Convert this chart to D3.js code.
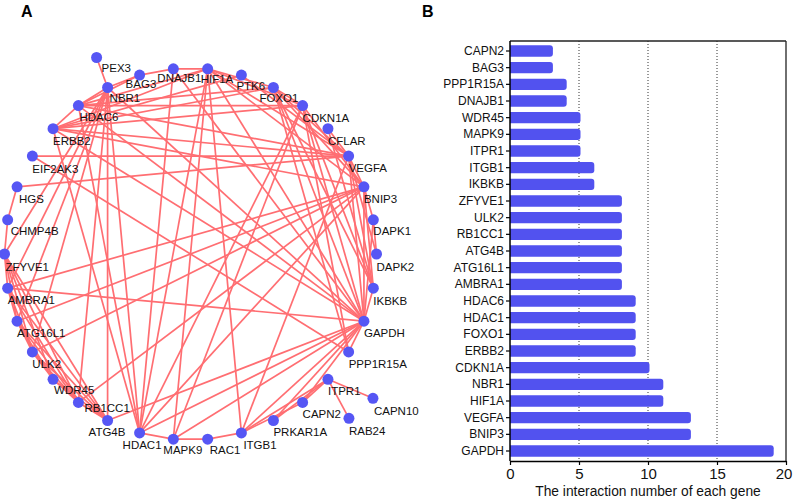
<!DOCTYPE html>
<html><head><meta charset="utf-8">
<script src="https://cdn.jsdelivr.net/npm/d3@7/dist/d3.min.js"></script>
<style>
body{margin:0;background:#fff}
svg{display:block}
text{font-family:"Liberation Sans",Arial,Helvetica,sans-serif}
</style>
</head><body>
<svg id="chart" width="793" height="501"></svg>
<script>
// ---------------- DATA ----------------
// Panel B: bar chart (top to bottom)
const genes = ["CAPN2","BAG3","PPP1R15A","DNAJB1","WDR45","MAPK9","ITPR1","ITGB1","IKBKB",
  "ZFYVE1","ULK2","RB1CC1","ATG4B","ATG16L1","AMBRA1","HDAC6","HDAC1","FOXO1","ERBB2",
  "CDKN1A","NBR1","HIF1A","VEGFA","BNIP3","GAPDH"];
const interactionCounts = [3,3,4,4,5,5,5,6,6,8,8,8,8,8,8,9,9,9,9,10,11,11,13,13,19];
const xTickValues = [0,5,10,15,20];
const gridValues = [5,10,15];
const xAxisTitle = "The interaction number of each gene";

// Panel A: network nodes in circle order (clockwise from top)
const ringNodes = ["DNAJB1","HIF1A","PTK6","FOXO1","CDKN1A","CFLAR","VEGFA","BNIP3","DAPK1","DAPK2",
  "IKBKB","GAPDH","PPP1R15A","ITPR1","CAPN2","PRKAR1A","ITGB1","RAC1","MAPK9","HDAC1","ATG4B",
  "RB1CC1","WDR45","ULK2","ATG16L1","AMBRA1","ZFYVE1","CHMP4B","HGS","EIF2AK3","ERBB2","HDAC6",
  "NBR1","BAG3"];
const satelliteNodes = ["PEX3","CAPN10","RAB24"];
const satelliteParents = ["NBR1","ITPR1","ITPR1"];

const edges = [
 ["PEX3","NBR1"],["ITPR1","CAPN10"],["ITPR1","RAB24"],["EIF2AK3","VEGFA"],["EIF2AK3","PPP1R15A"],
 ["HGS","VEGFA"],["HGS","CHMP4B"],["CHMP4B","ZFYVE1"],
 ["ZFYVE1","AMBRA1"],["ZFYVE1","ATG16L1"],["ZFYVE1","ULK2"],["ZFYVE1","WDR45"],["ZFYVE1","RB1CC1"],["ZFYVE1","ATG4B"],
 ["AMBRA1","ATG16L1"],["AMBRA1","ULK2"],["AMBRA1","RB1CC1"],["AMBRA1","ATG4B"],
 ["ATG16L1","ULK2"],["ATG16L1","WDR45"],["ATG16L1","RB1CC1"],["ATG16L1","ATG4B"],
 ["ULK2","WDR45"],["ULK2","RB1CC1"],["ULK2","ATG4B"],["WDR45","RB1CC1"],["WDR45","ATG4B"],["RB1CC1","ATG4B"],
 ["NBR1","ZFYVE1"],["NBR1","AMBRA1"],["NBR1","ATG16L1"],["NBR1","ULK2"],["NBR1","RB1CC1"],["NBR1","ATG4B"],
 ["NBR1","HDAC6"],["NBR1","HDAC1"],["NBR1","BAG3"],["NBR1","GAPDH"],
 ["AMBRA1","BNIP3"],["AMBRA1","GAPDH"],["ATG16L1","BNIP3"],["ULK2","BNIP3"],["RB1CC1","BNIP3"],["ATG4B","GAPDH"],
 ["BAG3","HDAC6"],["BAG3","DNAJB1"],
 ["HDAC6","GAPDH"],["HDAC6","HIF1A"],["HDAC6","VEGFA"],["HDAC6","FOXO1"],["HDAC6","CDKN1A"],["HDAC6","ERBB2"],["HDAC6","HDAC1"],
 ["DNAJB1","HIF1A"],["DNAJB1","GAPDH"],["DNAJB1","HDAC1"],
 ["HDAC1","ERBB2"],["HDAC1","GAPDH"],["HDAC1","HIF1A"],["HDAC1","CDKN1A"],["HDAC1","MAPK9"],["HDAC1","BNIP3"],
 ["ERBB2","GAPDH"],["ERBB2","BNIP3"],["ERBB2","VEGFA"],["ERBB2","HIF1A"],["ERBB2","CDKN1A"],["ERBB2","FOXO1"],["ERBB2","PTK6"],
 ["FOXO1","GAPDH"],["FOXO1","BNIP3"],["FOXO1","HIF1A"],["FOXO1","CDKN1A"],["FOXO1","VEGFA"],["FOXO1","PPP1R15A"],["FOXO1","IKBKB"],
 ["CDKN1A","GAPDH"],["CDKN1A","BNIP3"],["CDKN1A","HIF1A"],["CDKN1A","PPP1R15A"],["CDKN1A","MAPK9"],["CDKN1A","IKBKB"],
 ["HIF1A","GAPDH"],["HIF1A","BNIP3"],["HIF1A","VEGFA"],["HIF1A","MAPK9"],["HIF1A","ITGB1"],
 ["MAPK9","RAC1"],["MAPK9","GAPDH"],
 ["IKBKB","GAPDH"],["IKBKB","VEGFA"],["IKBKB","CFLAR"],["IKBKB","BNIP3"],
 ["PPP1R15A","GAPDH"],
 ["ITGB1","GAPDH"],["ITGB1","RAC1"],["ITGB1","CAPN2"],["ITGB1","ITPR1"],["ITGB1","VEGFA"],
 ["PRKAR1A","ITPR1"],["PRKAR1A","GAPDH"],["ITPR1","CAPN2"],["CAPN2","GAPDH"],
 ["BNIP3","GAPDH"],["BNIP3","VEGFA"],["BNIP3","DAPK1"],["DAPK1","DAPK2"],["DAPK1","GAPDH"],
 ["VEGFA","GAPDH"],["VEGFA","CFLAR"],["VEGFA","DAPK2"],["VEGFA","PTK6"]
];

// ---------------- LAYOUT / STYLE ----------------
const BAR_COLOR = "#5252EF";
const NODE_COLOR = "#5656F4";
const EDGE_COLOR = "#FF6E72";
const ring = {cx:190.5, cy:254, r:186};
const satelliteOffsets = {PEX3:[-11,-30], CAPN10:[45,19], RAB24:[21,39]};
const labelShift = {PEX3:[5,15], BAG3:[-14,13], DNAJB1:[-16,13], HIF1A:[-7,14], PTK6:[-5,15],
  FOXO1:[-14,15], ATG4B:[-19,15], HDAC1:[-17,16], MAPK9:[-10,15], RB1CC1:[6,10], NBR1:[2,15],
  HDAC6:[1,15], WDR45:[1,15], CHMP4B:[3,15], HGS:[2,16], PRKAR1A:[0,15], RAC1:[2,15], ITGB1:[2,16],
  EIF2AK3:[0,17], ZFYVE1:[1,17], CAPN10:[1,17], RAB24:[0,17], IKBKB:[0,17], DAPK2:[0,17], DAPK1:[0,15]};

const svg = d3.select("#chart");

// ---------------- PANEL A ----------------
const angle = d3.scaleLinear().domain([0, ringNodes.length])
  .range([-Math.PI/ringNodes.length, 2*Math.PI - Math.PI/ringNodes.length]);
const pos = {};
ringNodes.forEach((id,i)=>{
  const a = angle(i);
  pos[id] = [ring.cx + ring.r*Math.sin(a), ring.cy - ring.r*Math.cos(a)];
});
satelliteNodes.forEach((id,i)=>{
  const p = pos[satelliteParents[i]], o = satelliteOffsets[id];
  pos[id] = [p[0]+o[0], p[1]+o[1]];
});
const allNodes = ringNodes.concat(satelliteNodes);

const gA = svg.append("g");
gA.append("g").selectAll("line").data(edges).join("line")
  .attr("x1",d=>pos[d[0]][0]).attr("y1",d=>pos[d[0]][1])
  .attr("x2",d=>pos[d[1]][0]).attr("y2",d=>pos[d[1]][1])
  .attr("stroke",EDGE_COLOR).attr("stroke-width",1.7);
gA.append("g").selectAll("circle").data(allNodes).join("circle")
  .attr("cx",d=>pos[d][0]).attr("cy",d=>pos[d][1]).attr("r",5.5)
  .attr("fill",NODE_COLOR);
gA.append("g").selectAll("text").data(allNodes).join("text")
  .attr("x",d=>pos[d][0] + (labelShift[d]||[0,16])[0])
  .attr("y",d=>pos[d][1] + (labelShift[d]||[0,16])[1])
  .attr("font-size",11.5).attr("fill","#111").text(d=>d);

svg.append("text").attr("x",21).attr("y",17).attr("font-size",16).attr("font-weight","bold").text("A");
svg.append("text").attr("x",422).attr("y",17).attr("font-size",16).attr("font-weight","bold").text("B");

// ---------------- PANEL B ----------------
const plot = {left:510, right:786, top:41, bottom:461};
const x = d3.scaleLinear().domain([0,20]).range([plot.left, plot.right]);
const y = d3.scaleBand().domain(genes).range([plot.top, plot.bottom]).paddingInner(0.32).paddingOuter(0.26);
const gB = svg.append("g");

gB.append("g").selectAll("line").data(gridValues).join("line")
  .attr("x1",d=>x(d)).attr("x2",d=>x(d)).attr("y1",plot.top).attr("y2",plot.bottom)
  .attr("stroke","#333").attr("stroke-width",1).attr("stroke-dasharray","1,2");

function barPath(x0,x1,y0,h,r){
  return `M${x0},${y0}H${x1-r}Q${x1},${y0} ${x1},${y0+r}V${y0+h-r}Q${x1},${y0+h} ${x1-r},${y0+h}H${x0}Z`;
}
gB.append("g").selectAll("path").data(genes).join("path")
  .attr("d",(g,i)=>barPath(x(0), x(interactionCounts[i])+1.5, y(g), y.bandwidth(), 3))
  .attr("fill",BAR_COLOR);

// box
gB.append("line").attr("x1",plot.left).attr("x2",plot.right).attr("y1",plot.top).attr("y2",plot.top)
  .attr("stroke","#222").attr("stroke-width",1.3);
gB.append("line").attr("x1",plot.right).attr("x2",plot.right).attr("y1",plot.top).attr("y2",plot.bottom)
  .attr("stroke","#222").attr("stroke-width",1.3);

const yAxis = gB.append("g").attr("transform",`translate(${plot.left},0)`)
  .call(d3.axisLeft(y).tickSize(4).tickPadding(2).tickSizeOuter(0));
yAxis.select(".domain").attr("stroke","#000").attr("stroke-width",1.5).attr("d",`M0,${plot.top}V${plot.bottom}`);
yAxis.selectAll(".tick line").attr("stroke","#000").attr("stroke-width",1.2);
yAxis.selectAll(".tick text").attr("font-size",12).attr("fill","#111")
  .attr("font-family",'"Liberation Sans",Arial,sans-serif');

const xAxis = gB.append("g").attr("transform",`translate(0,${plot.bottom})`)
  .call(d3.axisBottom(x).tickValues(xTickValues).tickSize(4).tickPadding(3).tickSizeOuter(0));
xAxis.select(".domain").attr("stroke","#000").attr("stroke-width",1.5);
xAxis.selectAll(".tick line").attr("stroke","#000").attr("stroke-width",1.2);
xAxis.selectAll(".tick text").attr("font-size",15).attr("fill","#111")
  .attr("font-family",'"Liberation Sans",Arial,sans-serif')
  .attr("dx",d=>d===20?-2.5:0);

gB.append("text").attr("x",(plot.left+plot.right)/2).attr("y",496).attr("text-anchor","middle")
  .attr("font-size",13.8).attr("fill","#111").text(xAxisTitle);
</script>
</body></html>
